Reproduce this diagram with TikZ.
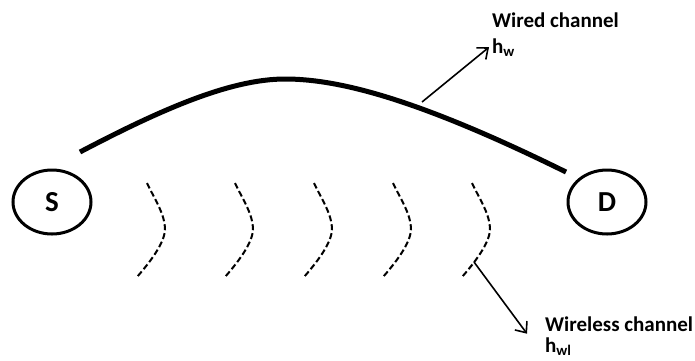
\documentclass[tikz,border=0pt]{standalone}
\usepackage{fontspec}
\setmainfont{Carlito}
\usetikzlibrary{arrows.meta,shapes.geometric}

\begin{document}
\begin{tikzpicture}[x=1pt,y=-1pt,
  station/.style={draw,ellipse,line width=3pt,minimum width=78pt,minimum height=64pt,inner sep=0pt,font=\fontsize{29}{30}\selectfont\bfseries},
  wire/.style={line width=5pt},
  wave/.style={line width=2pt,dash pattern=on 6pt off 3pt},
  pointer/.style={-{Straight Barb[length=9pt,width=15pt]},line width=1.6pt},
  note/.style={inner sep=0pt,font=\fontsize{21}{26}\selectfont\bfseries}
]
\useasboundingbox (0,0) rectangle (695,360);
\node[station] (S) at (52,202) {S};
\node[station] (D) at (607,202) {D};
% wired link
\coordinate (w0) at (80,152);
\coordinate (w1) at (566,172);
\draw[wire] (w0) .. controls (160,110) and (230,79) .. (285,79)
  .. controls (340,79) and (420,100) .. (w1);
% wireless link
\foreach \x in {147,235,314,393,472}
  \draw[wave] (\x,183) .. controls (\x+8,200) and (\x+18,214) .. (\x+18,230)
    .. controls (\x+17,244) and (\x+3,262) .. (\x-10,277);
% labels
\node[note,anchor=base west] (wiredname) at (492,27) {Wired channel};
\node[note,anchor=base west] (hw) at (492,53) {h\textsubscript{w}};
\node[note,anchor=base west] (wlname) at (545,331) {Wireless channel};
\node[note,anchor=base west] (hwl) at (545,352) {h\textsubscript{wl}};
\coordinate (wtap) at (422,102);
\coordinate (ltap) at (474,262);
\draw[pointer] (wtap) -- ([xshift=-3pt]hw.west);
\draw[pointer] (ltap) -- ([xshift=-18pt,yshift=-10pt]wlname.west);
\end{tikzpicture}
\end{document}
